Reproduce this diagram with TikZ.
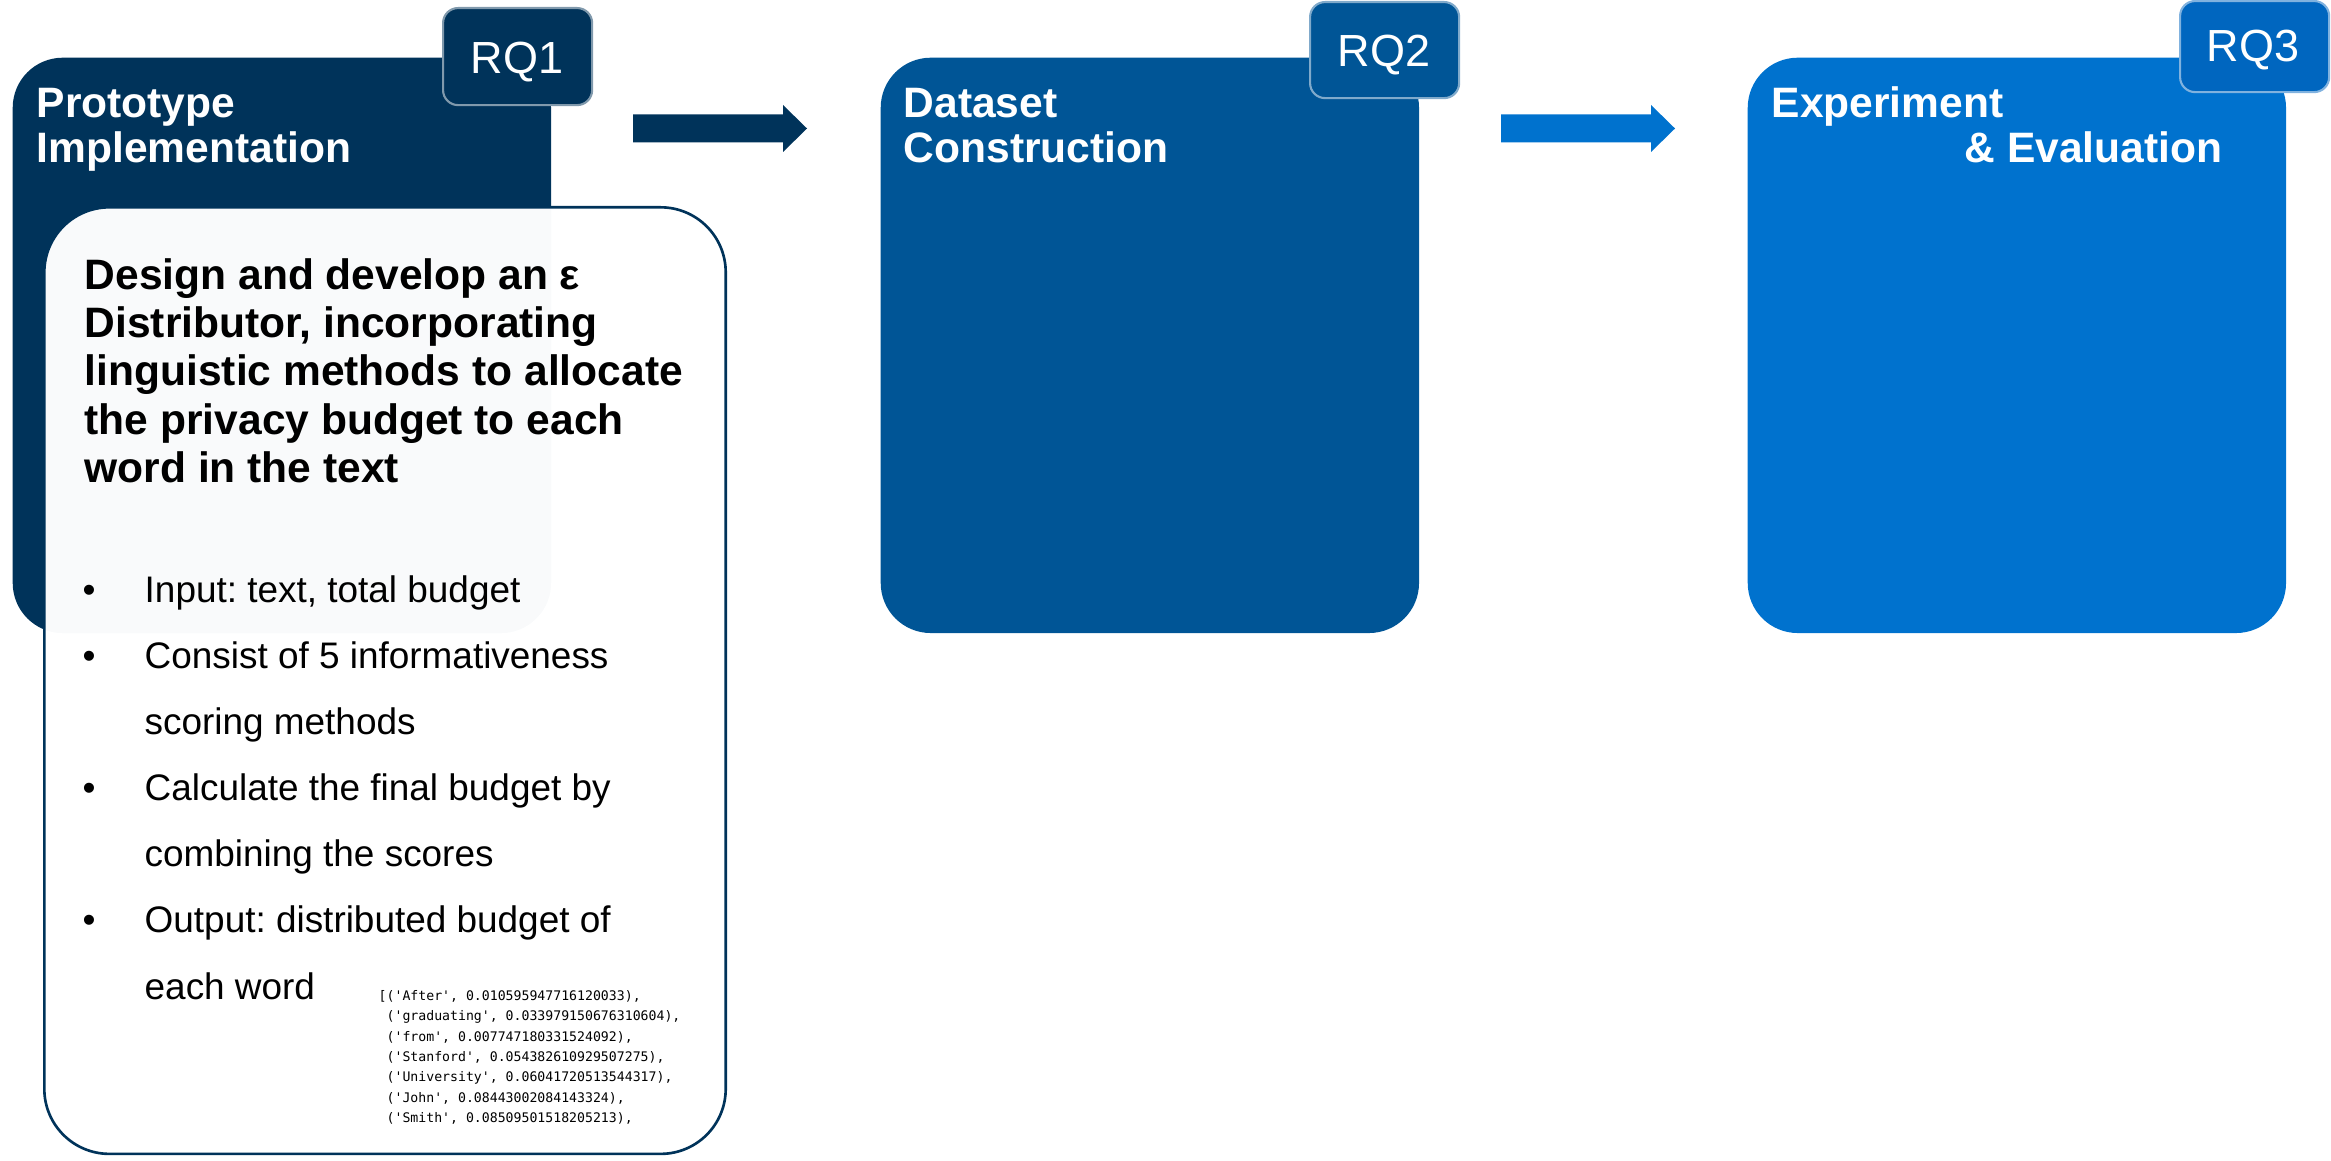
\documentclass[tikz,border=0pt]{standalone}
\usepackage{fontspec}
\setmainfont{Liberation Sans}
\newfontfamily\codefont{DejaVu Sans Mono}
\frenchspacing
\definecolor{navy}{HTML}{00335A}
\definecolor{midblue}{HTML}{005596}
\definecolor{brightblue}{HTML}{0072CE}
\definecolor{tabblue}{HTML}{0066BF}
\tikzset{
  phase/.style={fill=#1, rounded corners=0.5cm, inner sep=0, anchor=north west,
                minimum width=5.38cm, minimum height=5.75cm},
  rqtab/.style={fill=#1, draw=#1!50!white, line width=0.6pt, rounded corners=0.15cm,
                inner sep=0, anchor=north west, minimum width=1.49cm},
  rqlabel/.style={text=white, font=\fontsize{12.8}{14}\selectfont, anchor=base, inner sep=0},
  title/.style={text=white, font=\bfseries\fontsize{12.1}{14}\selectfont, anchor=base west, inner sep=0},
  headline/.style={text=black, font=\bfseries\fontsize{12.1}{14}\selectfont, anchor=base west, inner sep=0},
  itemtext/.style={text=black, font=\fontsize{10.5}{12}\selectfont, anchor=base west, inner sep=0},
  bulletmark/.style={text=black, font=\fontsize{10.5}{12}\selectfont, anchor=base, inner sep=0},
  codeline/.style={text=black, font=\codefont\fontsize{3.75}{4.5}\selectfont, anchor=base west, inner sep=0},
  pics/blockarrow/.style={code={
    \fill[#1] (0,-14) -- (150,-14) -- (150,-23.5) -- (174,0) -- (150,23.5) -- (150,14) -- (0,14) -- cycle;}}
}
\begin{document}
\begin{tikzpicture}[x=0.01cm, y=-0.01cm]
\useasboundingbox (0,0) rectangle (2331,1161);

% the three phase panels
\node[phase=navy] (box1) at (12,57) {};
\node[phase=midblue] (box2) at (880,57) {};
\node[phase=brightblue] (box3) at (1747,57) {};

% research-question tabs
\node[rqtab=navy, minimum height=0.97cm] (tab1) at (442,7) {};
\node[rqtab=midblue, minimum height=0.96cm] (tab2) at (1309,1) {};
\node[rqtab=tabblue, minimum height=0.91cm] (tab3) at (2179,0) {};
\node[rqlabel] (rq1) at (517,74) {RQ1};
\node[rqlabel] (rq2) at (1384,67) {RQ2};
\node[rqlabel] (rq3) at (2253,62) {RQ3};

% arrows between the phases
\pic at (633,128.5) {blockarrow=navy};
\pic at (1501,128.5) {blockarrow=brightblue};

% panel titles
\node[title] (t1a) at (36,118) {Prototype};
\node[title] (t1b) at (36,163) {Implementation};
\node[title] (t2a) at (903,118) {Dataset};
\node[title] (t2b) at (903,163) {Construction};
\node[title] (t3a) at (1771,118) {Experiment};
\node[title] (t3b) at (1964,163) {\& Evaluation};

% detail card of the first phase
\node[anchor=north west, inner sep=0, minimum width=6.81cm, minimum height=9.46cm,
      fill=white, fill opacity=0.975, draw=navy, line width=0.75pt,
      rounded corners=0.65cm] (detail) at (43,206) {};

\node[headline] (h1) at (84,290) {Design and develop an ε};
\node[headline] (h2) at (84,338) {Distributor, incorporating};
\node[headline] (h3) at (84,386) {linguistic methods to allocate};
\node[headline] (h4) at (84,434) {the privacy budget to each};
\node[headline] (h5) at (84,482) {word in the text};

\node[bulletmark] (d1) at (89,602) {•};
\node[bulletmark] (d2) at (89,668) {•};
\node[bulletmark] (d3) at (89,800) {•};
\node[bulletmark] (d4) at (89,932) {•};
\node[itemtext] (i1) at (144,602) {Input: text, total budget};
\node[itemtext] (i2) at (144,668) {Consist of 5 informativeness};
\node[itemtext] (i2b) at (144,734) {scoring methods};
\node[itemtext] (i3) at (144,800) {Calculate the final budget by};
\node[itemtext] (i3b) at (144,866) {combining the scores};
\node[itemtext] (i4) at (144,932) {Output: distributed budget of};
\node[itemtext] (i4b) at (144,999) {each word};

% sample output of the distributor
\node[codeline] (c1) at (378,1000) {[('After', 0.010595947716120033),};
\node[codeline] (c2) at (378,1020) {\phantom{[}('graduating', 0.033979150676310604),};
\node[codeline] (c3) at (378,1041) {\phantom{[}('from', 0.007747180331524092),};
\node[codeline] (c4) at (378,1061) {\phantom{[}('Stanford', 0.054382610929507275),};
\node[codeline] (c5) at (378,1081) {\phantom{[}('University', 0.06041720513544317),};
\node[codeline] (c6) at (378,1102) {\phantom{[}('John', 0.08443002084143324),};
\node[codeline] (c7) at (378,1122) {\phantom{[}('Smith', 0.08509501518205213),};
\end{tikzpicture}
\end{document}
